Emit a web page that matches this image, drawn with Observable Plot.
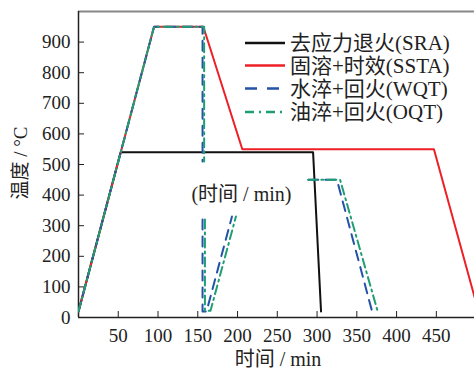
<!DOCTYPE html>
<html><head><meta charset="utf-8">
<script src="https://cdn.jsdelivr.net/npm/d3@7"></script>
<script src="https://cdn.jsdelivr.net/npm/@observablehq/plot@0.6"></script>
<style>
body{margin:0;background:#fff;}
#chart svg{display:block;}
#chart svg text{font-family:"Liberation Serif","Times New Roman","Noto Sans CJK SC",serif;}
</style>
</head><body><div id="chart"></div>
<script>
// ---- data ----
const xTicks = [50, 100, 150, 200, 250, 300, 350, 400, 450];
const yTicks = [0, 100, 200, 300, 400, 500, 600, 700, 800, 900];
const seriesNames = ["去应力退火(SRA)", "固溶+时效(SSTA)", "水淬+回火(WQT)", "油淬+回火(OQT)"];

// each series: list of segments, each segment = [times, temps]
const sraSegs = [
  [[0, 53, 295, 305], [20, 540, 540, 20]]
];
const sstaSegs = [
  [[0, 95, 157, 206, 447, 503], [20, 950, 950, 550, 550, 20]]
];
const wqtSegs = [
  [[0, 95, 156, 156], [20, 950, 950, 510]],
  [[156, 156, 161, 193], [320, 20, 20, 330]],
  [[289, 325, 369], [450, 450, 22]]
];
const oqtSegs = [
  [[0, 95, 158, 158], [20, 950, 950, 510]],
  [[159, 159, 166, 198], [320, 22, 22, 330]],
  [[289, 329, 376], [450, 450, 22]]
];
const annotation = [{time: 142, temp: 402, label: "(时间 / min)"}];
const xLabel = "时间 / min";
const yLabel = "温度 / °C";

// ---- build ----
const colors = ["#111111", "#ee1f26", "#2452a8", "#1f9e74"];
const dashes = [null, null, "10,7", "9,4,2,4"];
const allSegs = [sraSegs, sstaSegs, wqtSegs, oqtSegs];
const rows = allSegs.map((segs, si) => segs.flatMap((seg, k) =>
  seg[0].map((t, i) => ({time: t, temp: seg[1][i], seg: si + "-" + k}))));

const serif = '"Liberation Serif","Times New Roman","Noto Sans CJK SC",serif';

const plot = Plot.plot({
  width: 474, height: 370,
  marginLeft: 78, marginRight: 0, marginTop: 11, marginBottom: 53,
  x: {domain: [0, 498]},
  y: {domain: [0, 1000]},
  style: {fontSize: "19px", color: "#222", background: "#fff", overflow: "visible"},
  marks: [
    Plot.axisY({ticks: yTicks, tickSize: 0, tickPadding: 8, label: null}),
    Plot.axisY({ticks: yTicks, tickSize: -6, tickFormat: () => "", label: null, stroke: "#222"}),
    Plot.axisX({ticks: xTicks, tickSize: 0, tickPadding: 11, label: null}),
    Plot.axisX({ticks: xTicks, tickSize: -6, tickFormat: () => "", label: null, stroke: "#222"}),
    Plot.ruleY([1000], {stroke: "#888", strokeWidth: 2}),
    Plot.ruleX([0], {stroke: "#222", strokeWidth: 1.5}),
    Plot.ruleY([0], {stroke: "#222", strokeWidth: 1.5}),
    ...rows.map((r, i) => Plot.line(r, {
      x: "time", y: "temp", z: "seg", stroke: colors[i], strokeWidth: 2,
      strokeDasharray: dashes[i], clip: true
    })),
    Plot.text(annotation, {x: "time", y: "temp", text: "label", textAnchor: "start",
      fontSize: 20, fill: "#222"})
  ]
});

const svg = d3.select(plot);
// axis titles
svg.append("text").attr("x", 278).attr("y", 366).attr("text-anchor", "middle")
  .attr("font-size", 20).attr("fill", "#222").text(xLabel);
svg.append("text").attr("transform", "translate(27,163) rotate(-90)").attr("text-anchor", "middle")
  .attr("font-size", 19).attr("fill", "#222").text(yLabel);

// legend
const lg = svg.append("g");
const rowY = [43, 65.5, 88.5, 112];
seriesNames.forEach((name, i) => {
  const ln = lg.append("line").attr("x1", 245).attr("x2", 285).attr("y1", rowY[i]).attr("y2", rowY[i])
    .attr("stroke", colors[i]).attr("stroke-width", 2.3);
  if (i === 2) ln.attr("stroke-dasharray", "12,10");
  if (i === 3) ln.attr("stroke-dasharray", "9,5,2,5");
  lg.append("text").attr("x", 290).attr("y", rowY[i]).attr("dy", "0.35em")
    .attr("text-anchor", "start")
    .attr("font-size", 21).attr("fill", "#222").text(name);
});

document.getElementById("chart").appendChild(plot);
</script>
</body></html>
